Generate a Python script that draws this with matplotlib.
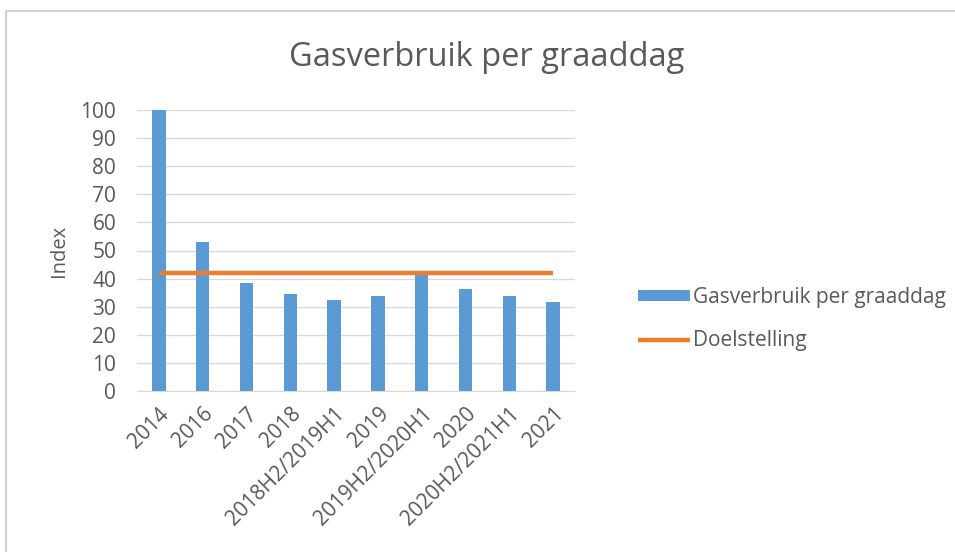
import matplotlib.pyplot as plt
from matplotlib.patches import Rectangle

# data
categories = ["2014", "2016", "2017", "2018", "2018H2/2019H1", "2019",
              "2019H2/2020H1", "2020", "2020H2/2021H1", "2021"]
gas_per_graaddag = [100, 53, 38.6, 34.4, 32.3, 33.9, 42.5, 36.3, 33.8, 31.6]
doelstelling = [42] * len(categories)

plt.rcParams["font.family"] = ["Open Sans", "DejaVu Sans"]
text_grey = "#595959"

fig = plt.figure(figsize=(9.55, 5.52), dpi=100)
ax = fig.add_axes([137 / 955, 1 - 391 / 552, 438 / 955, 281 / 552])

x = range(len(categories))
bars = ax.bar(x, gas_per_graaddag, width=0.31, color="#5b9bd5", zorder=2)
line, = ax.plot(x, doelstelling, color="#ed7d31", linewidth=3.2, zorder=3,
                solid_capstyle="butt")

ax.set_xlim(-0.5, len(categories) - 0.5)
ax.set_ylim(0, 100)
ax.set_yticks(range(0, 101, 10))
ax.grid(axis="y", color="#d9d9d9", linewidth=1, zorder=0)
ax.set_axisbelow(True)

for side in ["top", "right", "left"]:
    ax.spines[side].set_visible(False)
ax.spines["bottom"].set_color("#d9d9d9")

ax.set_xticks(list(x))
ax.set_xticklabels(categories, rotation=45, ha="right", rotation_mode="anchor")
ax.tick_params(axis="both", length=0, labelsize=15, colors=text_grey)
ax.tick_params(axis="y", pad=15)
ax.tick_params(axis="x", pad=9)

ax.set_ylabel("Index", fontsize=14.5, color=text_grey, labelpad=8)

fig.text(487 / 955, 1 - 57 / 552, "Gasverbruik per graaddag", ha="center",
         va="center", fontsize=23.5, color=text_grey)

fig.legend([bars, line], ["Gasverbruik per graaddag", "Doelstelling"],
           loc="center left", bbox_to_anchor=(619 / 955, 1 - 319 / 552),
           frameon=False, fontsize=15, labelcolor=text_grey,
           handlelength=2.5, handletextpad=0.15, labelspacing=1.05,
           handleheight=0.42)

# light chart border
fig.patches.append(Rectangle((6 / 955, -0.1), 1.2, 1 - 11 / 552 + 0.1,
                             transform=fig.transFigure, fill=False,
                             edgecolor="#d0d0d0", linewidth=1.5))

fig.savefig("out.png", dpi=100)
